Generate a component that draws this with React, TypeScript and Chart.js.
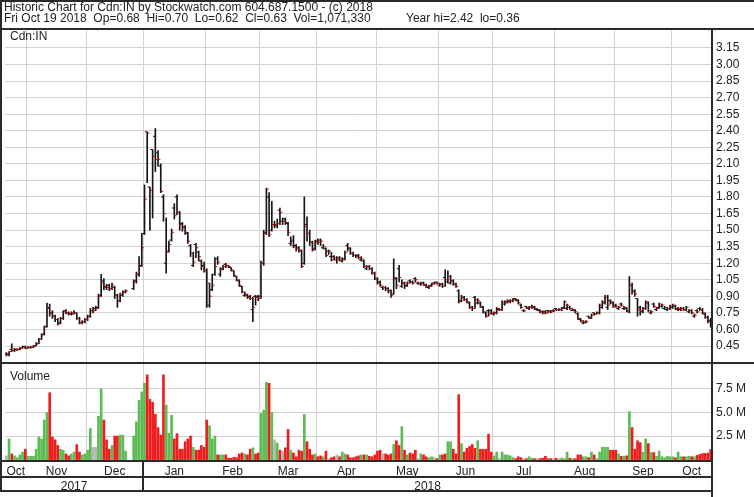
import React, { useEffect, useRef } from "react";
import { Chart, registerables } from "chart.js";

Chart.register(...registerables);

const W = 754;
const H = 497;
const FONT = '"Liberation Sans", Arial, Helvetica, sans-serif';

const headerTitle = "Historic Chart for Cdn:IN by Stockwatch.com 604.687.1500 - (c) 2018";
const headerStats = "Fri Oct 19 2018  Op=0.68  Hi=0.70  Lo=0.62  Cl=0.63  Vol=1,071,330";
const headerYear = "Year hi=2.42  lo=0.36";
const symbolLabel = "Cdn:IN";
const volumeLabel = "Volume";

const monthNames = ["Oct", "Nov", "Dec", "Jan", "Feb", "Mar", "Apr", "May", "Jun", "Jul", "Aug", "Sep", "Oct"];
// slot boundaries (between weekday slots) where each month starts
const monthBoundaries = [7.5, 29.5, 50.5, 73.5, 93.5, 114.5, 136.5, 159.5, 179.5, 202.5, 224.5, 245.5];
const yearLabels = ["2017", "2018"];
const yearBoundary = 50.5;
const priceTicks = [0.45, 0.6, 0.75, 0.9, 1.05, 1.2, 1.35, 1.5, 1.65, 1.8, 1.95, 2.1, 2.25, 2.4, 2.55, 2.7, 2.85, 3.0, 3.15];
const volumeTicks = [2.5, 5, 7.5];
const priceRange = [0.296, 3.322];
const volumeRange = [-0.149, 10.26];

// one entry per weekday slot, Oct 20 2017 .. Oct 19 2018 (null = no trading)
const openPrices = [
  .38, .37, .42, .41, .415, .42, .43, .445, .43, .435,
  .44, .45, .47, .51, .56, .63, .80, .75, .72, .69,
  .66, .70, .77, .75, .74, .74, .75, .70, .66, .67,
  .69, .72, .77, .79, .80, .91, 1.04, .99, 1.00, .97,
  .98, .91, .86, .91, .94, null, null, .97, 1.04, 1.10,
  1.18, 1.47, 2.39, 1.89, 2.23, 2.35, 2.20, 2.08, 1.80, 1.20,
  1.31, 1.41, 1.70, 1.80, 1.66, 1.56, 1.53, 1.47, 1.36, 1.18,
  1.37, 1.30, 1.22, 1.18, 1.13, .82, .96, 1.10, 1.24, 1.10,
  1.15, 1.19, 1.18, 1.16, 1.13, 1.08, 1.04, .99, .91, .91,
  .90, .78, .90, .90, .90, 1.20, 1.48, 1.80, 1.50, 1.55,
  1.54, 1.68, 1.58, 1.60, 1.56, 1.38, 1.40, 1.36, 1.34, 1.31,
  1.20, 1.55, 1.47, 1.39, 1.33, 1.40, 1.41, 1.34, 1.33, 1.31,
  1.26, 1.26, 1.23, 1.25, 1.22, 1.24, 1.36, 1.33, 1.29, 1.27,
  1.27, 1.23, 1.22, 1.15, 1.17, 1.15, 1.11, 1.06, 1.03, .98,
  .98, .97, .95, .92, 1.06, 1.15, .99, 1.02, 1.00, 1.04,
  1.03, 1.06, 1.02, 1.01, 1.02, 1.00, .98, 1.00, 1.02, 1.03,
  1.00, 1.01, 1.07, 1.03, 1.02, 1.04, 1.01, .95, .86, .89,
  .87, .84, .80, .89, .84, .84, .80, .75, .77, .77,
  .74, .75, .78, .78, .83, .85, .85, .86, .88, .86,
  .82, .77, .81, .79, .80, .80, .78, .77, .76, .76,
  .77, .77, .77, .79, .78, .78, .80, .79, .80, .77,
  .77, .74, .69, .66, .66, .72, .70, .75, .74, .75,
  .80, .84, .80, .86, .84, .82, .79, .83, .79, .79,
  .76, 1.00, .95, .88, .80, .76, .79, .84, .75, .83,
  .78, .80, .81, .79, .78, .79, .80, .81, .78, .78,
  .79, .78, .76, .77, .72, .77, .79, .78, .74, .71,
  .68,
];
const highPrices = [
  .39, .40, .47, .43, .425, .435, .45, .45, .445, .445,
  .455, .48, .52, .56, .63, .84, .83, .77, .73, .70,
  .71, .77, .78, .76, .76, .77, .75, .71, .68, .70,
  .73, .79, .80, .81, .92, 1.10, 1.06, 1.01, 1.01, 1.02,
  .99, .92, .93, .95, .96, null, null, 1.05, 1.12, 1.26,
  1.47, 1.91, 2.39, 1.89, 2.23, 2.42, 2.22, 2.10, 1.82, 1.61,
  1.40, 1.51, 1.74, 1.82, 1.67, 1.57, 1.54, 1.48, 1.37, 1.30,
  1.38, 1.31, 1.23, 1.21, 1.15, 1.02, 1.10, 1.25, 1.26, 1.16,
  1.18, 1.20, 1.18, 1.16, 1.13, 1.08, 1.05, .99, .94, .92,
  .91, .89, .91, .91, 1.22, 1.50, 1.88, 1.84, 1.76, 1.58,
  1.60, 1.70, 1.61, 1.61, 1.57, 1.44, 1.45, 1.37, 1.35, 1.32,
  1.80, 1.62, 1.50, 1.40, 1.41, 1.42, 1.42, 1.37, 1.34, 1.32,
  1.30, 1.27, 1.26, 1.26, 1.25, 1.31, 1.38, 1.34, 1.30, 1.28,
  1.28, 1.26, 1.23, 1.18, 1.18, 1.16, 1.12, 1.07, 1.04, .99,
  .99, .98, .96, 1.24, 1.07, 1.18, 1.05, 1.03, 1.03, 1.05,
  1.04, 1.07, 1.03, 1.03, 1.03, 1.01, 1.00, 1.02, 1.03, 1.03,
  1.02, 1.02, 1.14, 1.13, 1.09, 1.05, 1.02, .96, .91, .90,
  .88, .85, .81, .90, .88, .85, .81, .76, .78, .78,
  .76, .80, .79, .86, .86, .87, .87, .88, .88, .87,
  .83, .78, .81, .81, .82, .81, .79, .78, .77, .77,
  .77, .77, .78, .79, .79, .80, .86, .83, .81, .79,
  .78, .75, .70, .68, .68, .72, .74, .75, .76, .83,
  .86, .91, .91, .87, .85, .83, .81, .84, .81, .80,
  1.08, 1.02, .96, .88, .81, .80, .86, .85, .77, .84,
  .80, .84, .83, .81, .80, .82, .83, .82, .80, .80,
  .80, .81, .78, .78, .74, .78, .80, .79, .75, .72,
  .70,
];
const lowPrices = [
  .36, .36, .40, .40, .41, .415, .43, .425, .43, .43,
  .435, .45, .47, .51, .55, .62, .72, .70, .67, .64,
  .65, .69, .74, .73, .73, .74, .69, .65, .65, .66,
  .68, .71, .75, .77, .79, .90, .96, .96, .95, .96,
  .88, .80, .85, .90, .93, null, null, .96, 1.02, 1.08,
  1.17, 1.46, 1.93, 1.50, 1.61, 2.03, 2.08, 1.84, 1.58, 1.11,
  1.30, 1.40, 1.60, 1.64, 1.50, 1.49, 1.46, 1.38, 1.26, 1.17,
  1.25, 1.22, 1.14, 1.12, .80, .80, .95, 1.09, 1.19, 1.08,
  1.14, 1.16, 1.16, 1.13, 1.08, 1.04, .99, .93, .90, .88,
  .87, .67, .82, .86, .88, 1.18, 1.46, 1.44, 1.49, 1.52,
  1.52, 1.55, 1.55, 1.55, 1.45, 1.36, 1.34, 1.31, 1.30, 1.16,
  1.19, 1.40, 1.36, 1.31, 1.32, 1.37, 1.36, 1.33, 1.26, 1.28,
  1.22, 1.23, 1.20, 1.22, 1.21, 1.23, 1.31, 1.28, 1.26, 1.25,
  1.24, 1.22, 1.16, 1.14, 1.14, 1.10, 1.05, 1.01, .99, .96,
  .95, .93, .89, .92, .97, 1.03, .98, .97, .99, 1.02,
  1.01, 1.03, 1.01, 1.00, 1.00, .98, .97, .99, 1.01, 1.01,
  .99, .98, .99, 1.02, 1.01, 1.00, .98, .84, .85, .86,
  .84, .79, .77, .79, .83, .80, .75, .71, .72, .74,
  .73, .74, .77, .77, .82, .84, .84, .85, .86, .83,
  .79, .76, .79, .78, .79, .78, .77, .75, .74, .74,
  .75, .75, .76, .77, .77, .77, .79, .78, .78, .77,
  .75, .69, .67, .65, .66, .70, .70, .73, .74, .74,
  .79, .83, .78, .83, .80, .80, .78, .81, .78, .76,
  .75, .92, .90, .72, .73, .75, .78, .76, .74, .80,
  .77, .79, .80, .78, .77, .78, .79, .78, .77, .77,
  .77, .77, .75, .74, .71, .75, .77, .74, .70, .66,
  .62,
];
const closePrices = [
  .38, .40, .41, .42, .42, .43, .44, .43, .44, .44,
  .45, .47, .51, .55, .62, .79, .75, .72, .69, .65,
  .70, .76, .75, .74, .75, .75, .70, .66, .67, .69,
  .72, .77, .77, .79, .90, 1.02, .98, .98, .97, 1.00,
  .91, .86, .92, .94, .95, null, null, 1.03, 1.10, 1.17,
  1.34, 1.78, 2.38, 1.86, 2.17, 2.14, 2.14, 1.85, 1.65, 1.30,
  1.37, 1.48, 1.63, 1.66, 1.55, 1.52, 1.48, 1.40, 1.29, 1.21,
  1.34, 1.26, 1.17, 1.14, 1.02, .90, 1.00, 1.17, 1.21, 1.14,
  1.17, 1.18, 1.17, 1.14, 1.09, 1.05, 1.00, .94, .92, .89,
  .88, .80, .89, .88, 1.20, 1.47, 1.87, 1.46, 1.55, 1.55,
  1.56, 1.66, 1.58, 1.57, 1.48, 1.41, 1.35, 1.33, 1.32, 1.17,
  1.53, 1.47, 1.39, 1.32, 1.39, 1.39, 1.40, 1.35, 1.27, 1.31,
  1.23, 1.25, 1.23, 1.24, 1.23, 1.30, 1.34, 1.29, 1.27, 1.26,
  1.25, 1.24, 1.17, 1.17, 1.15, 1.11, 1.06, 1.02, 1.00, .98,
  .97, .95, .91, 1.07, 1.00, 1.07, 1.02, .99, 1.02, 1.03,
  1.02, 1.05, 1.02, 1.02, 1.01, .99, .99, 1.01, 1.02, 1.02,
  1.01, .99, 1.05, 1.08, 1.04, 1.01, .99, .85, .89, .87,
  .85, .80, .79, .87, .86, .81, .76, .72, .74, .75,
  .75, .79, .78, .85, .84, .86, .86, .87, .87, .84,
  .80, .77, .80, .80, .81, .79, .78, .76, .75, .75,
  .76, .76, .77, .78, .78, .79, .85, .82, .79, .78,
  .76, .70, .68, .67, .67, .71, .73, .74, .75, .82,
  .85, .89, .82, .85, .81, .81, .80, .82, .80, .77,
  1.00, .94, .92, .78, .77, .79, .85, .77, .76, .81,
  .79, .83, .82, .80, .79, .81, .82, .79, .79, .79,
  .78, .80, .77, .75, .73, .76, .78, .75, .71, .67,
  .63,
];
// daily volume, millions of shares
const volumes = [
  .4, 2.2, .6, .4, .2, .5, .8, 1.1, .35, .35,
  .35, 1.1, 2.4, 2.2, 4.2, 5.0, 7.1, 2.4, 2.1, 1.5,
  1.1, 1.0, .6, .4, .6, .8, 1.6, .8, .5, .6,
  1.0, 3.3, 1.3, 1.3, 4.6, 7.5, 4.2, 2.1, 1.1, 1.5,
  2.5, 2.5, 2.6, 2.6, .9, null, null, 2.5, 4.0, 6.3,
  7.2, 8.1, 9.0, 6.4, 6.1, 4.8, 3.4, 2.6, 9.0, 5.8,
  2.8, 4.7, 2.2, 2.75, 1.1, 1.1, 1.9, 2.2, 2.5, 1.3,
  1.0, 1.0, 1.5, 1.3, 4.2, 3.6, 2.2, 2.5, .5, .5,
  .5, .5, .15, .15, .25, .2, .6, .7, .6, .5,
  1.1, 1.25, .6, .7, 4.9, 5.25, 8.2, 8.1, 5.0, 2.1,
  1.75, 1.0, .9, 1.25, 3.2, 1.0, .7, .3, 1.0, .9,
  4.8, 1.9, 1.1, .5, .6, .3, .4, .3, .9, .1,
  .2, .3, .5, .3, .8, .6, .5, .2, .2, .3,
  .4, .5, .5, .5, .35, .3, .5, .9, 1.0, .6,
  .6, .5, .6, 1.6, 2.0, 1.5, 3.5, 1.0, .5, .7,
  .6, 1.0, .1, .6, .5, .3, .2, .3, .2, .1,
  .5, .5, .6, 1.9, 1.9, 1.1, .6, 6.9, 1.7, .8,
  1.2, 1.4, 1.6, 1.2, 2.0, 1.1, 1.1, 1.1, 2.7, .8,
  .4, .8, .1, .8, .5, .5, .4, .2, .1, .3,
  .2, .1, .1, .3, .15, .1, .1, .1, .15, .35,
  .1, .1, .1, .15, .1, .15, .1, .8, .15, .1,
  .1, .5, .5, .3, .3, .2, .8, .5, .1, .8,
  1.3, 1.3, 1.3, 1.0, 1.0, 1.0, .6, .35, .35, .4,
  5.1, 3.4, 1.1, 2.0, 1.8, .8, 2.2, 1.7, .75, .75,
  .35, .9, .3, .2, .35, .3, .3, .2, .8, .3,
  .3, .3, .35, .3, .3, .45, .55, .65, .65, .7,
  1.07,
];

const GRID = "#d2d2d2";
const FRAME = "#2a2a2a";
const BAR = "#151515";
const CLOSE_TICK = "#e00000";
const UP = "#5cbb52";
const DOWN = "#ee1c1c";
const FLAT = "#b4b4b4";

function buildConfig(): any {
  const xMin = -0.5;
  const xMax = closePrices.length - 0.5;
  const idx = closePrices.map((_, i) => i).filter((i) => closePrices[i] !== null);

  const edges = [xMin, ...monthBoundaries, xMax];
  const monthMids = monthNames.map((_, i) => (edges[i] + edges[i + 1]) / 2);
  const yearMids = [(xMin + yearBoundary) / 2, (yearBoundary + xMax) / 2];

  const hl = idx.map((i) => ({ x: i, y: [lowPrices[i], highPrices[i]] }));
  const opens = idx.map((i) => ({ x: i - 0.45, y: openPrices[i] }));
  const closes = idx.map((i) => ({ x: i + 0.45, y: closePrices[i] }));
  const vols = idx.map((i) => ({ x: i, y: volumes[i] }));
  const volColors = idx.map((i) =>
    (closePrices[i] as number) > (openPrices[i] as number)
      ? UP
      : (closePrices[i] as number) < (openPrices[i] as number)
      ? DOWN
      : FLAT
  );

  const framePlugin = {
    id: "frame",
    afterDraw(chart: any) {
      const { ctx, chartArea: a } = chart;
      const yv = chart.scales.yv;
      const xm = chart.scales.xm;
      const xy = chart.scales.xy;
      const xs = chart.scales.x;
      ctx.save();
      ctx.strokeStyle = FRAME;
      ctx.lineWidth = 2;
      const line = (x1: number, y1: number, x2: number, y2: number) => {
        ctx.beginPath();
        ctx.moveTo(x1, y1);
        ctx.lineTo(x2, y2);
        ctx.stroke();
      };
      line(0, 1, W, 1);
      line(1, 0, 1, xy.bottom + 1);
      line(0, a.top, W, a.top);
      line(0, Math.round(yv.top), W, Math.round(yv.top));
      line(0, a.bottom, a.right, a.bottom);
      line(0, xm.bottom, a.right, xm.bottom);
      line(0, xy.bottom, a.right, xy.bottom);
      line(a.right, a.top, a.right, H);
      const yx = Math.round(xs.getPixelForValue(yearBoundary));
      line(yx, a.bottom, yx, xy.bottom);
      ctx.restore();
    },
  };

  const font = { family: FONT, size: 12 };

  return {
    type: "bar",
    data: {
      datasets: [
        {
          type: "line",
          data: closes,
          xAxisID: "x",
          yAxisID: "y",
          showLine: false,
          pointStyle: "line",
          pointRadius: 1.1,
          pointBorderWidth: 1,
          pointBorderColor: CLOSE_TICK,
          pointBackgroundColor: CLOSE_TICK,
        },
        {
          type: "line",
          data: opens,
          xAxisID: "x",
          yAxisID: "y",
          showLine: false,
          pointStyle: "line",
          pointRadius: 1.1,
          pointBorderWidth: 1,
          pointBorderColor: BAR,
          pointBackgroundColor: BAR,
        },
        {
          type: "bar",
          data: hl,
          xAxisID: "x",
          yAxisID: "y",
          backgroundColor: BAR,
          borderWidth: 0,
          barThickness: 1,
          grouped: false,
        },
        {
          type: "bar",
          data: vols,
          xAxisID: "x",
          yAxisID: "yv",
          backgroundColor: volColors,
          borderWidth: 0,
          barThickness: 2,
          grouped: false,
        },
      ],
    },
    options: {
      responsive: false,
      maintainAspectRatio: false,
      devicePixelRatio: 1,
      animation: false,
      events: [],
      layout: { padding: { top: 29, left: 2, right: 0, bottom: 6 } },
      plugins: { legend: { display: false }, tooltip: { enabled: false }, title: { display: false } },
      scales: {
        x: {
          type: "linear",
          position: "bottom",
          weight: 0,
          min: xMin,
          max: xMax,
          offset: false,
          afterBuildTicks: (s: any) => {
            s.ticks = monthBoundaries.map((v) => ({ value: v }));
          },
          afterFit: (s: any) => {
            s.height = 0;
          },
          ticks: { display: false, autoSkip: false },
          grid: { color: GRID, lineWidth: 1, drawTicks: false, offset: false },
          border: { display: false },
        },
        xm: {
          type: "linear",
          position: "bottom",
          weight: 1,
          min: xMin,
          max: xMax,
          offset: false,
          afterBuildTicks: (s: any) => {
            s.ticks = monthMids.map((v) => ({ value: v }));
          },
          afterFit: (s: any) => {
            s.height = 16;
          },
          ticks: {
            autoSkip: false,
            maxRotation: 0,
            minRotation: 0,
            padding: 3,
            color: "#222",
            font,
            callback: (_v: any, i: number) => monthNames[i],
          },
          grid: { display: false, drawTicks: false },
          border: { display: false },
        },
        xy: {
          type: "linear",
          position: "bottom",
          weight: 2,
          min: xMin,
          max: xMax,
          offset: false,
          afterBuildTicks: (s: any) => {
            s.ticks = yearMids.map((v) => ({ value: v }));
          },
          afterFit: (s: any) => {
            s.height = 14;
          },
          ticks: {
            autoSkip: false,
            maxRotation: 0,
            minRotation: 0,
            padding: 2,
            color: "#222",
            font,
            callback: (_v: any, i: number) => yearLabels[i],
          },
          grid: { display: false, drawTicks: false },
          border: { display: false },
        },
        y: {
          type: "linear",
          position: "right",
          stack: "panels",
          stackWeight: 334,
          min: priceRange[0],
          max: priceRange[1],
          afterBuildTicks: (s: any) => {
            s.ticks = priceTicks.map((v) => ({ value: v }));
          },
          afterFit: (s: any) => {
            s.width = 42;
          },
          ticks: {
            autoSkip: false,
            padding: 4,
            color: "#222",
            font,
            callback: (v: any) => Number(v).toFixed(2),
          },
          grid: { color: GRID, lineWidth: 1, drawTicks: false },
          border: { display: false },
        },
        yv: {
          type: "linear",
          axis: "y",
          position: "right",
          stack: "panels",
          stackWeight: 98,
          min: volumeRange[0],
          max: volumeRange[1],
          afterBuildTicks: (s: any) => {
            s.ticks = volumeTicks.map((v) => ({ value: v }));
          },
          afterFit: (s: any) => {
            s.width = 42;
          },
          ticks: {
            autoSkip: false,
            padding: 4,
            color: "#222",
            font,
            callback: (v: any) => Number(v).toFixed(1) + " M",
          },
          grid: { color: GRID, lineWidth: 1, drawTicks: false },
          border: { display: false },
        },
      },
    },
    plugins: [framePlugin],
  };
}

export default function App() {
  const ref = useRef<HTMLCanvasElement | null>(null);

  useEffect(() => {
    if (!ref.current) return;
    const chart = new Chart(ref.current, buildConfig());
    return () => chart.destroy();
  }, []);

  const textStyle: any = {
    position: "absolute",
    fontFamily: FONT,
    fontSize: 12,
    color: "#222",
    whiteSpace: "pre",
    pointerEvents: "none",
    lineHeight: "14px",
  };

  return (
    <div style={{ position: "fixed", left: 0, top: 0, width: W, height: H, background: "#fff", overflow: "hidden" }}>
      <canvas ref={ref} width={W} height={H} style={{ position: "absolute", left: 0, top: 0, width: W, height: H }} />
      <div style={{ ...textStyle, left: 4, top: 0 }}>{headerTitle}</div>
      <div style={{ ...textStyle, left: 4, top: 11 }}>{headerStats}</div>
      <div style={{ ...textStyle, left: 406, top: 11 }}>{headerYear}</div>
      <div style={{ ...textStyle, left: 10, top: 29 }}>{symbolLabel}</div>
      <div style={{ ...textStyle, left: 10, top: 369 }}>{volumeLabel}</div>
    </div>
  );
}
